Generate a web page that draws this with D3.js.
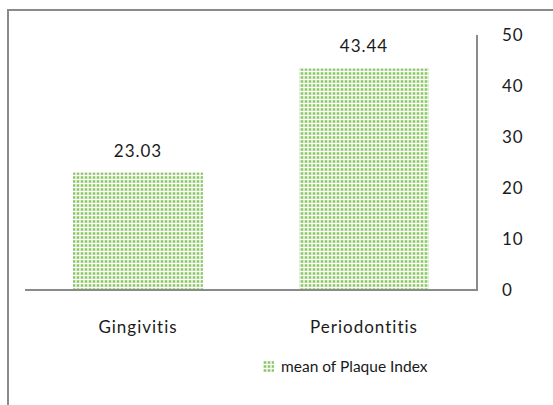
<!DOCTYPE html>
<html lang="en">
<head>
    <meta charset="UTF-8">
    <title>Plaque Index</title>
    <script src="https://d3js.org/d3.v7.min.js"></script>
    <style>
        body { margin: 0; background: #ffffff; }
        text { font-family: Lato, "Open Sans", sans-serif; fill: #1a1a1a; }
        .lbl { font-size: 17px; letter-spacing: 1px; }
    </style>
</head>
<body>
<div id="chart"></div>
<script>
    const categories = ['Gingivitis', 'Periodontitis'];
    const plaqueMeans = [23.03, 43.44];
    const yTicks = [0, 10, 20, 30, 40, 50];
    const seriesName = 'mean of Plaque Index';

    const width = 553, height = 405;

    const svg = d3.select('#chart').append('svg')
        .attr('width', width)
        .attr('height', height);

    // dotted fill like the office pattern
    const defs = svg.append('defs');
    const pat = defs.append('pattern')
        .attr('id', 'dots')
        .attr('patternUnits', 'userSpaceOnUse')
        .attr('width', 4)
        .attr('height', 4);
    pat.append('rect').attr('width', 4).attr('height', 4).attr('fill', '#ffffff');
    pat.append('rect').attr('x', 0).attr('y', 0).attr('width', 4).attr('height', 3).attr('fill', '#eef7e8');
    pat.append('rect').attr('x', 0.5).attr('y', 0).attr('width', 3).attr('height', 3).attr('fill', '#c6e4b2');
    pat.append('rect').attr('x', 1).attr('y', 0.5).attr('width', 2).attr('height', 2).attr('fill', '#86c55f');

    // outer frame (cropped)
    svg.append('path')
        .attr('d', 'M8,405 V10 H553')
        .attr('fill', 'none')
        .attr('stroke', '#8a8a8a')
        .attr('stroke-width', 2);

    const x = d3.scaleBand()
        .domain(categories)
        .range([25, 477])
        .paddingInner(0.425)
        .paddingOuter(0.2125);

    const y = d3.scaleLinear()
        .domain([0, 50])
        .range([290, 35]);

    // bars
    svg.append('g').selectAll('rect')
        .data(categories)
        .join('rect')
        .attr('x', d => x(d))
        .attr('y', (d, i) => y(plaqueMeans[i]))
        .attr('width', x.bandwidth())
        .attr('height', (d, i) => y(0) - y(plaqueMeans[i]))
        .attr('fill', 'url(#dots)');

    // value labels
    svg.append('g').selectAll('text')
        .data(categories)
        .join('text')
        .attr('class', 'lbl')
        .attr('x', d => x(d) + x.bandwidth() / 2)
        .attr('y', (d, i) => y(plaqueMeans[i]) - 16)
        .attr('text-anchor', 'middle')
        .text((d, i) => plaqueMeans[i].toFixed(2));

    // x axis line + labels
    svg.append('line')
        .attr('x1', 25).attr('x2', 478)
        .attr('y1', y(0)).attr('y2', y(0))
        .attr('stroke', '#8a8a8a')
        .attr('stroke-width', 2);

    svg.append('g').selectAll('text')
        .data(categories)
        .join('text')
        .attr('class', 'lbl')
        .attr('x', d => x(d) + x.bandwidth() / 2)
        .attr('y', 333)
        .attr('text-anchor', 'middle')
        .text(d => d);

    // right y axis
    svg.append('line')
        .attr('x1', 477).attr('x2', 477)
        .attr('y1', y(50)).attr('y2', y(0))
        .attr('stroke', '#8a8a8a')
        .attr('stroke-width', 2);

    svg.append('g').selectAll('text')
        .data(yTicks)
        .join('text')
        .attr('class', 'lbl')
        .attr('x', 502)
        .attr('y', d => y(d) + 6)
        .text(d => d);

    // legend
    const legend = svg.append('g').attr('transform', 'translate(263,361)');
    legend.append('rect')
        .attr('width', 11).attr('height', 11)
        .attr('fill', 'url(#dots)');
    legend.append('text')
        .attr('x', 18)
        .attr('y', 11)
        .attr('font-size', 15.5)
        .text(seriesName);
</script>
</body>
</html>
